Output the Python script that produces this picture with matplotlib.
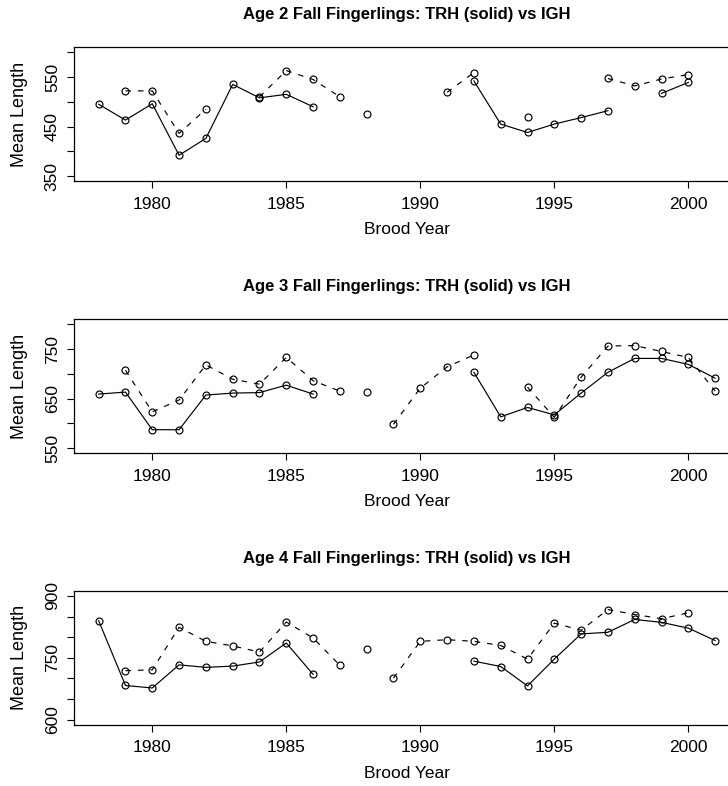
import numpy as np
import matplotlib
matplotlib.use("Agg")
import matplotlib.pyplot as plt

nan = np.nan
years = list(range(1978, 2002))

# Age 2
trh_age2 = [495, 463, 496, 392, 426, 535, 508, 515, 490, nan, 475, nan,
            nan, nan, 542, 455, 438, 455, 468, 482, nan, 517, 539, nan]
igh_age2 = [nan, 522, 522, 436, 485, nan, 510, 563, 545, 510, nan, nan,
            nan, 519, 559, nan, 469, nan, nan, 547, 532, 546, 555, nan]

# Age 3
trh_age3 = [659, 663, 587, 587, 657, 661, 662, 677, 659, nan, 663, nan,
            nan, nan, 703, 613, 632, 617, 661, 703, 731, 731, 719, 691]
igh_age3 = [nan, 707, 623, 647, 718, 689, 679, 733, 686, 665, nan, 598,
            671, 714, 738, nan, 673, 612, 693, 756, 757, 745, 733, 665]

# Age 4
trh_age4 = [840, 683, 677, 733, 727, 730, 740, 786, 710, nan, 772, nan,
            nan, nan, 742, 729, 682, 747, 808, 812, 843, 836, 822, 792]
igh_age4 = [nan, 719, 721, 824, 790, 779, 764, 837, 798, 732, nan, 701,
            790, 794, 790, 780, 747, 834, 817, 867, 855, 845, 859, nan]

titles = ["Age 2 Fall Fingerlings: TRH (solid) vs IGH",
          "Age 3 Fall Fingerlings: TRH (solid) vs IGH",
          "Age 4 Fall Fingerlings: TRH (solid) vs IGH"]
yticks = [[350, 400, 450, 500, 550, 600],
          [550, 600, 650, 700, 750, 800],
          [600, 650, 700, 750, 800, 850, 900]]
ylabels_shown = [[350, 450, 550], [550, 650, 750], [600, 750, 900]]
xticks = [1980, 1985, 1990, 1995, 2000]

plt.rcParams["font.family"] = ["Liberation Sans", "DejaVu Sans"]
plt.rcParams["lines.scale_dashes"] = False

W, H = 728, 786
fig = plt.figure(figsize=(W / 100, H / 100), dpi=100)

left, right = 74, 739.8
tops = [47.3, 319.3, 591.0]
box_h = 133.7

panels = [(trh_age2, igh_age2), (trh_age3, igh_age3), (trh_age4, igh_age4)]

for i, (trh, igh) in enumerate(panels):
    top = tops[i]
    ax = fig.add_axes([left / W, 1 - (top + box_h) / H, (right - left) / W, box_h / H])
    mk = dict(marker="o", markersize=5, markerfacecolor="none",
              markeredgecolor="black", markeredgewidth=0.85, color="black", lw=0.85)
    ax.plot(years, trh, ls="-", **mk)
    ax.plot(years, igh, ls=(0, (4.0, 5.0)), **mk)

    # R-style 4% padding on both axes
    x0, x1 = 1978, 2001
    ax.set_xlim(x0 - 0.04 * (x1 - x0), x1 + 0.04 * (x1 - x0))
    y0, y1 = yticks[i][0], yticks[i][-1]
    ax.set_ylim(y0 - 0.04 * (y1 - y0), y1 + 0.04 * (y1 - y0))

    ax.set_xticks(xticks)
    ax.set_xticklabels([str(x) for x in xticks])
    ax.set_yticks(yticks[i])
    ax.set_yticklabels([str(v) if v in ylabels_shown[i] else "" for v in yticks[i]],
                       rotation=90, va="center")
    ax.tick_params(direction="out", length=5.2, width=0.8, labelsize=12.5, pad=6)
    ax.tick_params(axis="y", pad=5)
    for s in ax.spines.values():
        s.set_linewidth(0.9)

    cx = (left + right) / 2
    fig.text(cx / W, 1 - (top - 33) / H, titles[i], ha="center", va="center",
             fontsize=12, fontweight="bold")
    fig.text(cx / W, 1 - (top + box_h + 49) / H, "Brood Year", ha="center",
             va="center", fontsize=12.5)
    fig.text(20 / W, 1 - (top + box_h / 2) / H, "Mean Length", ha="center",
             va="center", rotation=90, fontsize=13)

fig.savefig("out.png", dpi=100)
